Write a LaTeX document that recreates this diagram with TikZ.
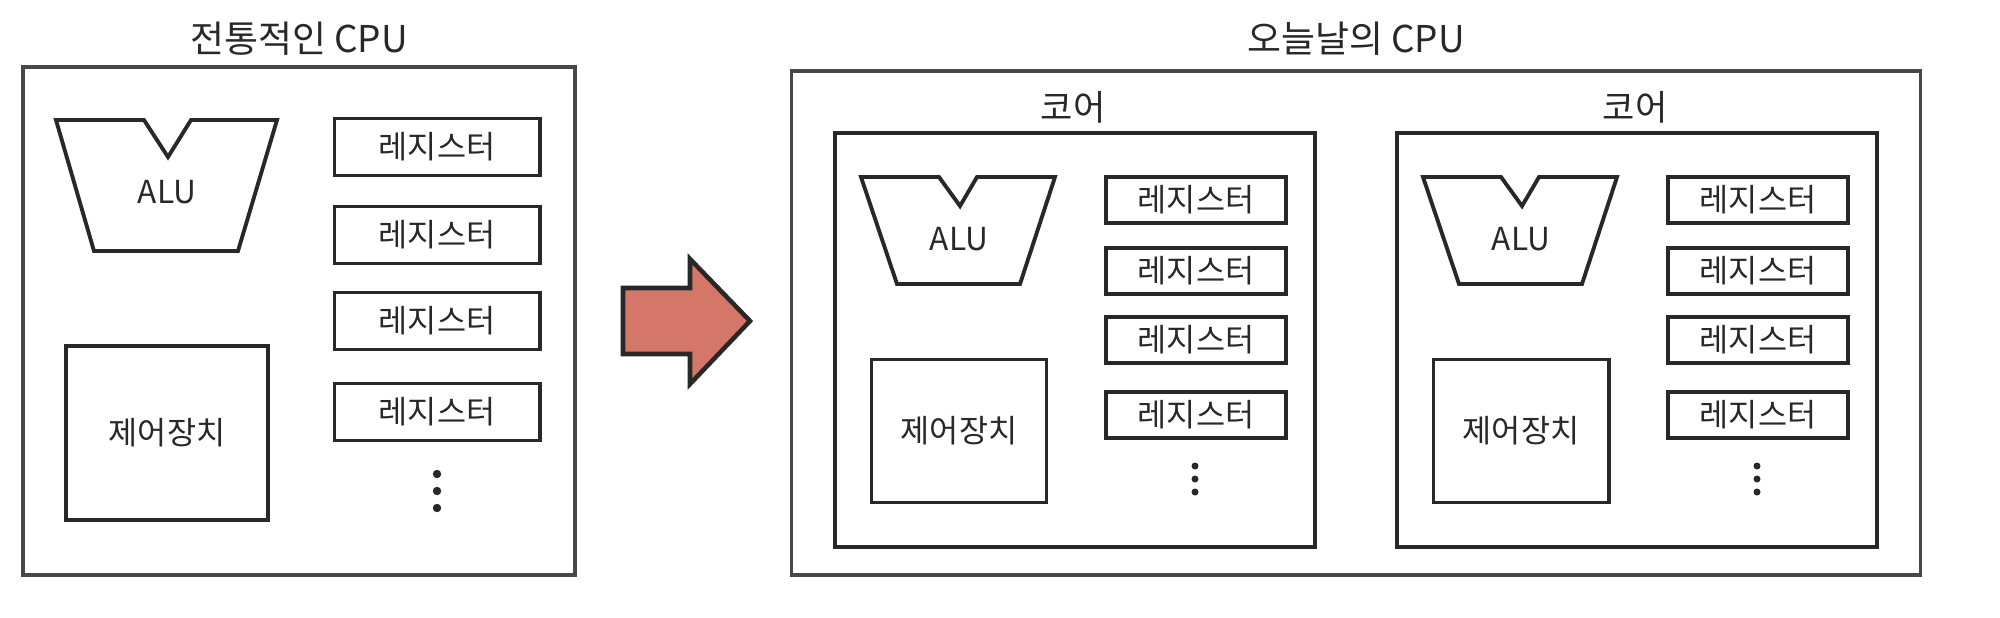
\documentclass[tikz,border=0pt]{standalone}
\usepackage{fontspec}
\usepackage{tikz}
\newfontfamily\kor{Noto Sans CJK KR}
\definecolor{ink}{RGB}{40,40,40}
\definecolor{arrowred}{RGB}{213,119,104}

\begin{document}
\begin{tikzpicture}[x=0.01cm,y=-0.01cm,
  box/.style={draw=ink,line width=1.1pt,inner sep=0pt},
  outerbox/.style={draw=ink!85,line width=1pt,inner sep=0pt},
  txt/.style={font=\kor\fontsize{9}{10}\selectfont,text=ink},
  titletext/.style={font=\kor\fontsize{10.5}{12}\selectfont,text=ink},
  regbox/.style={box,txt,minimum width=2.05cm,minimum height=0.57cm},
  coreg/.style={regbox,minimum width=1.8cm,minimum height=0.46cm},
  regdot/.style={circle,fill=ink,inner sep=0pt,minimum size=2.4pt}] %px coordinates
\useasboundingbox (0,0) rectangle (2000,617);
\fill[white] (0,0) rectangle (2000,617);

% traditional cpu
\node[titletext] (oldtitle) at (299,39) {전통적인 CPU};
\node[outerbox,minimum width=5.52cm,minimum height=5.08cm] (oldcpu) at (299,321) {};
\draw[box] (56,120) -- (144,120) -- (168,157) -- (191,120) -- (277,120) -- (238,251) -- (94,251) -- cycle;
\node[txt] (oldalu) at (167,192) {ALU};
\node[box,txt,minimum width=2.02cm,minimum height=1.74cm] (oldctrl) at (167,433) {제어장치};
\foreach \y [count=\i] in {147,235,321,412} {
\node[regbox] (oldreg\i) at (437,\y) {레지스터};
}
\foreach \y [count=\i] in {474,491,508} {
\node[regdot] (olddot\i) at (437,\y) {};
}

% arrow
\draw[line width=1.3pt,draw=ink,fill=arrowred,line join=miter] (623,288) -- (690,288) -- (690,259) -- (750,321) -- (690,384) -- (690,354) -- (623,354) -- cycle;

% today's cpu
\node[titletext] (newtitle) at (1356,39) {오늘날의 CPU};
\node[outerbox,minimum width=11.28cm,minimum height=5.04cm] (newcpu) at (1356,323) {};
\foreach \dx [count=\c] in {0,562} {
\node[box,minimum width=4.79cm,minimum height=4.13cm] (core\c) at (\dx+1075,340) {};
\node[titletext,font=\kor\fontsize{10}{12}\selectfont] (coretitle\c) at (\dx+1073,107) {코어};
\draw[box] (\dx+861,177) -- (\dx+939,177) -- (\dx+960,206) -- (\dx+977,177) -- (\dx+1055,177) -- (\dx+1020,284) -- (\dx+897,284) -- cycle;
\node[txt] (corealu\c) at (\dx+959,239) {ALU};
\node[box,txt,minimum width=1.75cm,minimum height=1.43cm] (corectrl\c) at (\dx+959,431) {제어장치};
\foreach \y [count=\i] in {200,271,340,415} {
\node[coreg] (corereg\c-\i) at (\dx+1196,\y) {레지스터};
}
\foreach \y [count=\i] in {466,479,492} {
\node[regdot,minimum size=2pt] (coredot\c-\i) at (\dx+1195,\y) {};
}
}
\end{tikzpicture}
\end{document}
